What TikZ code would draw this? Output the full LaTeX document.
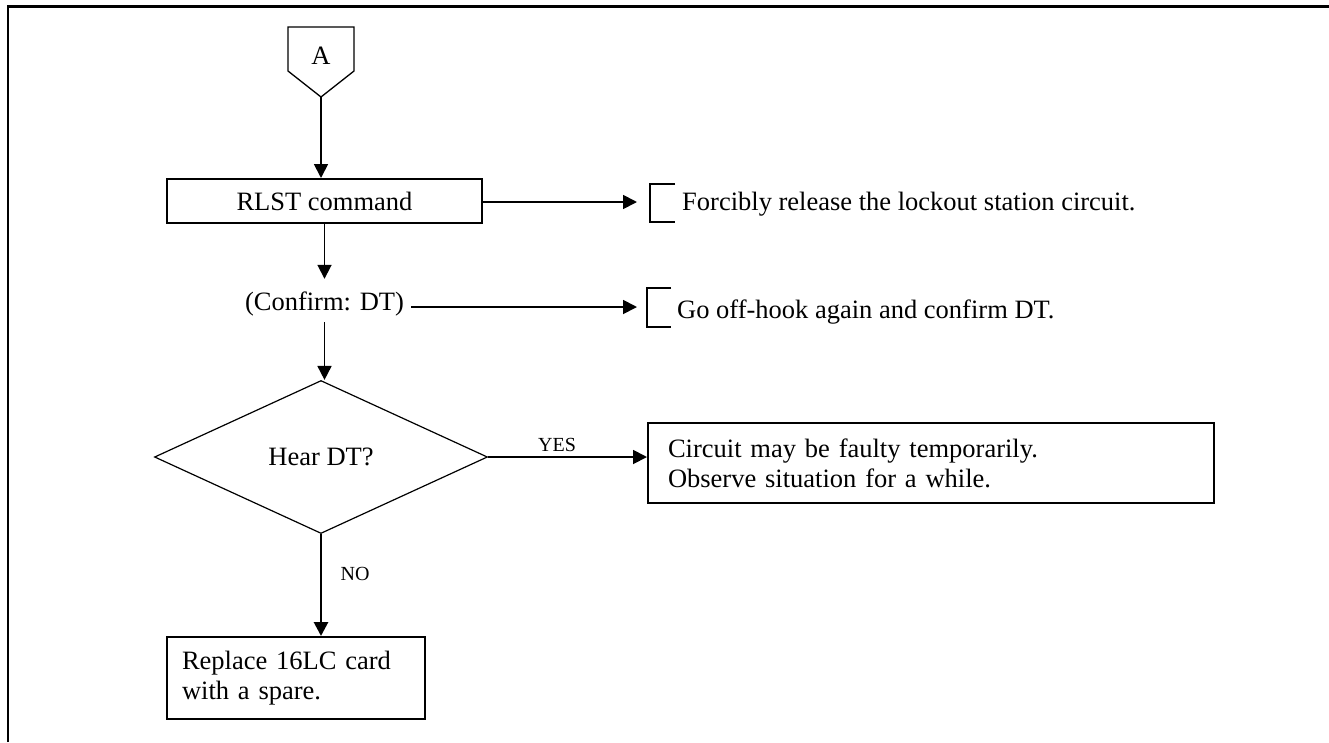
\documentclass[tikz,border=0pt]{standalone}
\usepackage{fontspec}
\setmainfont{Liberation Serif}
\usetikzlibrary{arrows.meta,shapes.geometric}
\begin{document}
\begin{tikzpicture}[x=1pt,y=-1pt,
  every node/.style={font=\fontsize{26.5}{30}\selectfont},
  lbl/.style={font=\fontsize{20}{24}\selectfont, inner sep=0pt},
  box/.style={draw, line width=2pt, inner sep=0pt},
  arr/.style={line width=1.8pt, -{Triangle[length=14pt,width=14pt]}},
  brk/.style={line width=2pt},
  plain/.style={inner sep=0pt}]
\useasboundingbox (0,0) rectangle (1329,742);
% open frame
\draw[line width=2.4pt] (8,742) -- (8,6.5) -- (1329,6.5);
% connector A
\draw[line width=1.3pt] (288,27) -- (354,27) -- (354,71) -- (321,97) -- (288,71) -- cycle;
\node[plain] (A) at (321,56) {A};
\coordinate (Atip) at (321,97);
% RLST
\node[box, minimum width=315pt, minimum height=44pt] (rlst) at (324.5,201) {RLST command};
\draw[arr] (Atip) -- (Atip |- rlst.north);
\coordinate (f1) at (637,202);
\draw[arr] (rlst.east |- f1) -- (f1);
\draw[brk] (675,184) -- (650,184) -- (650,222) -- (675,222);
\node[plain, anchor=base west] (forc) at (682,210) {Forcibly release the lockout station circuit.};
% confirm
\node[plain, text height=31pt, text depth=12pt, anchor=base] (conf) at (324.5,310) {(Confirm: DT)};
\draw[arr] (rlst.south) -- (conf.north);
\coordinate (g1) at (637,307);
\draw[arr] ([xshift=7pt]conf.east |- g1) -- (g1);
\draw[brk] (671,288) -- (647,288) -- (647,327) -- (671,327);
\node[plain, anchor=base west] (go) at (677,318) {Go off-hook again and confirm DT.};
% decision
\node[diamond, draw, line width=1.2pt, minimum width=333pt, minimum height=153pt, inner sep=0pt] (dia) at (321,457) {Hear DT?};
\draw[arr] (conf.south) -- (conf.south |- dia.north);
\node[box, minimum width=566pt, minimum height=80pt, text width=526pt, align=left] (circ) at (931,463) {\mbox{Circuit may be faulty temporarily.}\\\mbox{Observe situation for a while.}};
\draw[arr] (dia.east) -- (dia.east -| circ.west);
\node[lbl] (yes) at (557,445) {YES};
\node[box, minimum width=258pt, minimum height=82pt, text width=228pt, align=left] (rep) at (296,678) {\mbox{Replace 16LC card}\\\mbox{with a spare.}};
\draw[arr, line width=2.8pt] (dia.south) -- (dia.south |- rep.north);
\node[lbl] (no) at (355,574) {NO};
\end{tikzpicture}
\end{document}
